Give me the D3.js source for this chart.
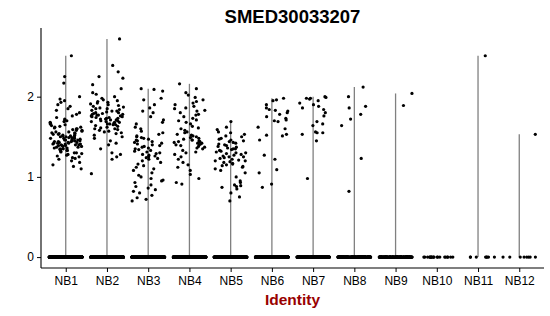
<!DOCTYPE html>
<html>
<head>
<meta charset="utf-8">
<script src="https://cdn.jsdelivr.net/npm/d3@7"></script>
<style>
  body { margin: 0; background: #fff; }
  text { font-family: "Liberation Sans", Arial, sans-serif; }
</style>
</head>
<body>
<svg id="chart" width="550" height="316"></svg>
<script>
// cell groups on the x axis
const groups = ["NB1", "NB2", "NB3", "NB4", "NB5", "NB6", "NB7", "NB8", "NB9", "NB10", "NB11", "NB12"];

// non-zero expression values, one list per group
const nb1 = [2.51, 2.25, 2.17, 2.0, 1.97, 1.95, 1.93, 1.9, 1.88, 1.85, 1.83, 1.8, 1.78, 1.76, 1.74, 1.72, 1.71, 1.7, 1.69, 1.68, 1.67, 1.66, 1.65, 1.64, 1.63, 1.62, 1.62, 1.61, 1.6, 1.6, 1.59, 1.58, 1.58, 1.57, 1.56, 1.56, 1.55, 1.55, 1.54, 1.54, 1.53, 1.53, 1.52, 1.52, 1.51, 1.51, 1.5, 1.5, 1.5, 1.49, 1.49, 1.48, 1.48, 1.48, 1.47, 1.47, 1.46, 1.46, 1.46, 1.45, 1.45, 1.45, 1.44, 1.44, 1.44, 1.43, 1.43, 1.43, 1.42, 1.42, 1.42, 1.41, 1.41, 1.41, 1.4, 1.4, 1.4, 1.39, 1.39, 1.39, 1.38, 1.38, 1.37, 1.37, 1.36, 1.36, 1.35, 1.35, 1.34, 1.34, 1.33, 1.33, 1.32, 1.31, 1.3, 1.3, 1.29, 1.28, 1.27, 1.26, 1.25, 1.24, 1.23, 1.22, 1.2, 1.18, 1.15, 1.13, 1.1];
const nb2 = [2.72, 2.39, 2.31, 2.25, 2.23, 2.15, 2.1, 2.05, 2.03, 2.0, 1.98, 1.96, 1.95, 1.94, 1.93, 1.92, 1.91, 1.9, 1.89, 1.88, 1.87, 1.86, 1.85, 1.85, 1.84, 1.83, 1.82, 1.82, 1.81, 1.8, 1.8, 1.79, 1.79, 1.78, 1.78, 1.77, 1.77, 1.76, 1.76, 1.75, 1.75, 1.74, 1.74, 1.73, 1.73, 1.72, 1.72, 1.71, 1.71, 1.7, 1.7, 1.69, 1.69, 1.68, 1.68, 1.67, 1.66, 1.66, 1.65, 1.65, 1.64, 1.63, 1.62, 1.61, 1.6, 1.6, 1.59, 1.58, 1.57, 1.56, 1.55, 1.54, 1.52, 1.5, 1.48, 1.45, 1.42, 1.4, 1.35, 1.3, 1.28, 1.25, 1.22, 1.04];
const nb3 = [2.1, 2.09, 2.07, 1.98, 1.96, 1.9, 1.86, 1.82, 1.8, 1.75, 1.71, 1.68, 1.66, 1.62, 1.6, 1.57, 1.55, 1.53, 1.51, 1.5, 1.49, 1.48, 1.47, 1.46, 1.45, 1.44, 1.43, 1.42, 1.41, 1.4, 1.39, 1.38, 1.37, 1.36, 1.35, 1.34, 1.33, 1.32, 1.31, 1.3, 1.29, 1.28, 1.27, 1.26, 1.25, 1.24, 1.23, 1.22, 1.2, 1.18, 1.16, 1.14, 1.12, 1.1, 1.08, 1.05, 1.02, 1.0, 0.98, 0.96, 0.95, 0.93, 0.9, 0.88, 0.86, 0.84, 0.82, 0.8, 0.77, 0.74, 0.72, 0.7];
const nb4 = [2.16, 2.1, 2.05, 2.02, 1.99, 1.96, 1.94, 1.92, 1.9, 1.88, 1.86, 1.85, 1.83, 1.82, 1.8, 1.78, 1.77, 1.75, 1.73, 1.71, 1.7, 1.68, 1.66, 1.63, 1.61, 1.6, 1.58, 1.56, 1.55, 1.53, 1.52, 1.51, 1.5, 1.49, 1.48, 1.47, 1.46, 1.46, 1.45, 1.44, 1.44, 1.43, 1.42, 1.42, 1.41, 1.4, 1.4, 1.39, 1.38, 1.37, 1.36, 1.35, 1.33, 1.31, 1.3, 1.28, 1.25, 1.22, 1.18, 1.15, 1.12, 1.08, 1.03, 0.98, 0.93, 0.91];
const nb5 = [1.69, 1.62, 1.59, 1.56, 1.55, 1.53, 1.51, 1.5, 1.48, 1.47, 1.46, 1.45, 1.44, 1.43, 1.42, 1.41, 1.4, 1.39, 1.38, 1.37, 1.36, 1.35, 1.35, 1.34, 1.33, 1.32, 1.31, 1.3, 1.3, 1.29, 1.28, 1.27, 1.26, 1.25, 1.25, 1.24, 1.23, 1.22, 1.21, 1.2, 1.2, 1.19, 1.18, 1.17, 1.16, 1.15, 1.14, 1.13, 1.12, 1.1, 1.08, 1.05, 1.0, 0.95, 0.93, 0.9, 0.89, 0.88, 0.87, 0.85, 0.8, 0.75, 0.7];
const nb6 = [1.98, 1.96, 1.95, 1.9, 1.86, 1.84, 1.83, 1.82, 1.8, 1.78, 1.75, 1.73, 1.71, 1.7, 1.69, 1.62, 1.6, 1.53, 1.52, 1.51, 1.46, 1.27, 1.22, 1.09, 1.05, 0.91, 0.87];
const nb7 = [2.0, 1.99, 1.98, 1.98, 1.97, 1.95, 1.92, 1.9, 1.88, 1.86, 1.84, 1.8, 1.76, 1.69, 1.66, 1.64, 1.56, 1.55, 1.55, 1.53, 1.45, 0.98];
const nb8 = [2.12, 2.0, 1.88, 1.86, 1.78, 1.72, 1.64, 1.23, 0.82];
const nb9 = [2.04, 1.89];
const nb10 = [];
const nb11 = [2.51];
const nb12 = [1.53];

// how many cells sit at zero in each group (estimated from the band at 0)
const zeroCounts = [600, 600, 500, 500, 500, 400, 300, 200, 150, 20, 8, 8];

const valueLists = [nb1, nb2, nb3, nb4, nb5, nb6, nb7, nb8, nb9, nb10, nb11, nb12];
const yTicks = [0, 1, 2];

const svg = d3.select("#chart");
const plotLeft = 41, plotRight = 544, plotTop = 28, plotBottom = 268;

const x = d3.scalePoint()
    .domain(groups)
    .range([plotLeft, plotRight])
    .padding(0.6);

const maxVal = d3.max(valueLists.flat());
const pad = maxVal * 0.05;
const y = d3.scaleLinear()
    .domain([-pad, maxVal + pad])
    .range([plotBottom, plotTop]);

// fixed hash for horizontal jitter, so the picture is the same on every run
function jitterOf(i, gi) {
    const s = Math.sin(i * 12.9898 + gi * 78.233) * 43758.5453;
    return s - Math.floor(s);
}

const points = [];
groups.forEach((g, gi) => {
    const zeros = d3.range(zeroCounts[gi]).map(() => 0);
    const vals = zeros.concat(valueLists[gi]);
    vals.forEach((v, i) => {
        points.push({ group: g, value: v, jit: (jitterOf(i, gi) - 0.5) * 0.8 });
    });
});

// violins: density is almost all at zero so they collapse to thin spines
groups.forEach((g, gi) => {
    const m = d3.max(valueLists[gi]);
    if (!m) return;
    svg.append("line")
        .attr("x1", x(g)).attr("x2", x(g))
        .attr("y1", y(0)).attr("y2", y(m))
        .attr("stroke", "#808080")
        .attr("stroke-width", 1.3);
});

svg.append("g")
    .selectAll("circle")
    .data(points)
    .enter()
    .append("circle")
    .attr("cx", d => x(d.group) + d.jit * x.step())
    .attr("cy", d => y(d.value))
    .attr("r", 1.6)
    .attr("fill", "#000");

// axes
const yAxis = svg.append("g")
    .attr("transform", `translate(${plotLeft},0)`)
    .call(d3.axisLeft(y).tickValues(yTicks).tickSize(4).tickPadding(3).tickFormat(d3.format("d")));
yAxis.select(".domain").attr("d", `M0,${plotTop}V${plotBottom}`).attr("stroke-width", 1.1);
yAxis.selectAll("text").attr("font-size", 12).attr("fill", "#000");

const xAxis = svg.append("g")
    .attr("transform", `translate(0,${plotBottom})`)
    .call(d3.axisBottom(x).tickSize(4).tickPadding(4));
xAxis.select(".domain").attr("d", `M${plotLeft},0H${plotRight}`).attr("stroke-width", 1.1);
xAxis.selectAll("text").attr("font-size", 12).attr("fill", "#000");

svg.append("text")
    .attr("x", (plotLeft + plotRight) / 2)
    .attr("y", 23)
    .attr("text-anchor", "middle")
    .attr("font-size", 18.5)
    .attr("font-weight", "bold")
    .text("SMED30033207");

svg.append("text")
    .attr("x", (plotLeft + plotRight) / 2)
    .attr("y", 305)
    .attr("text-anchor", "middle")
    .attr("font-size", 15.5)
    .attr("font-weight", "bold")
    .attr("fill", "#990000")
    .text("Identity");
</script>
</body>
</html>
